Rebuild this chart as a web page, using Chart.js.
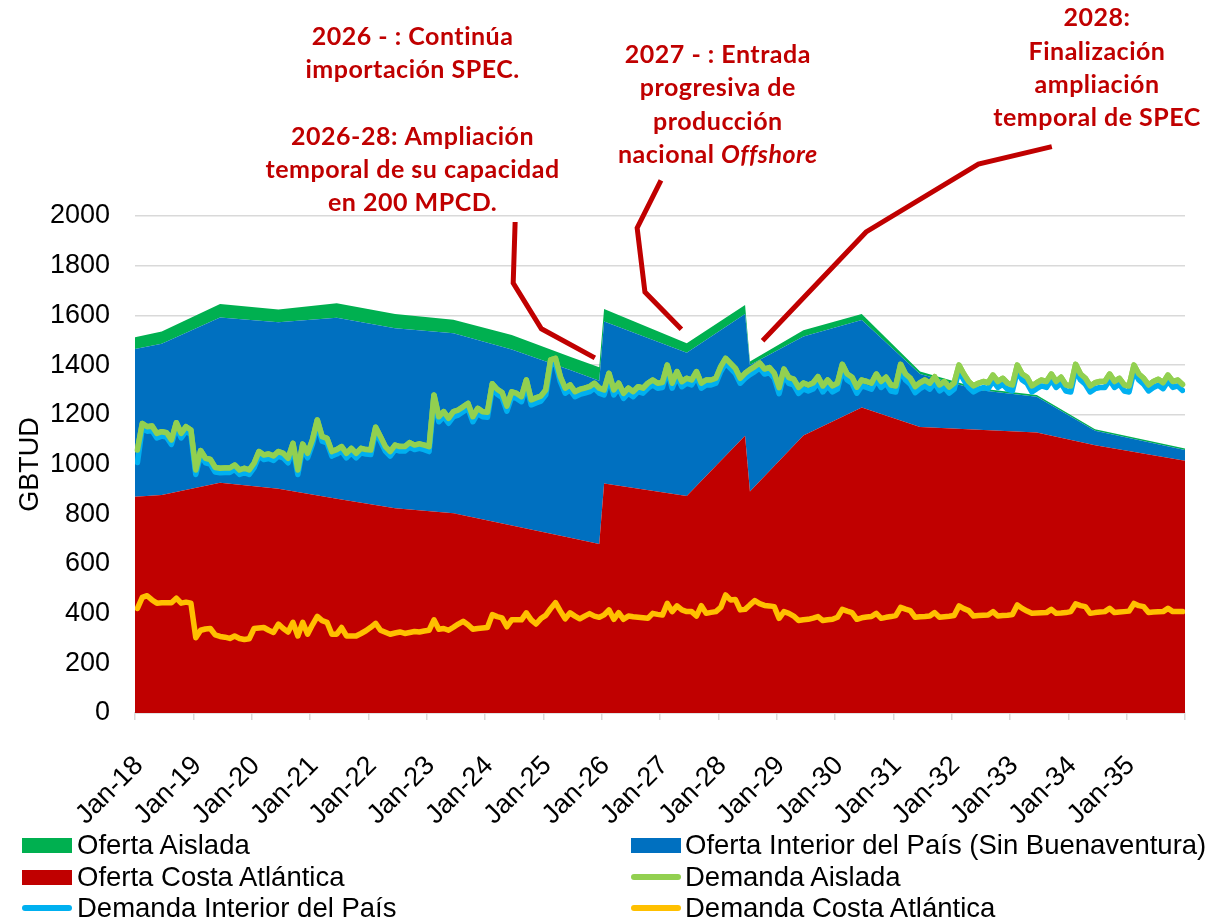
<!DOCTYPE html>
<html><head><meta charset="utf-8">
<script src="https://cdn.jsdelivr.net/npm/chart.js@4.4.0/dist/chart.umd.min.js"></script>
<style>
html,body{margin:0;padding:0;background:#fff;}
#wrap{position:relative;width:1223px;height:920px;overflow:hidden;background:#fff;}
#c{position:absolute;left:0;top:0;}
.lgt{position:absolute;font-family:'Liberation Sans',Arial,sans-serif;font-size:27.5px;color:#000;white-space:nowrap;line-height:30px;height:30px;}
.lgs{position:absolute;}
</style></head><body>
<div id="wrap"><canvas id="c" width="1223" height="920"></canvas><div id="legend"></div></div>
<script>
// ---------- tick labels (x axis, every 12 months) ----------
const tickLabels = ['Jan-18','Jan-19','Jan-20','Jan-21','Jan-22','Jan-23','Jan-24','Jan-25','Jan-26','Jan-27','Jan-28','Jan-29','Jan-30','Jan-31','Jan-32','Jan-33','Jan-34','Jan-35',''];

// ---------- monthly demand (Jan-18 .. Dec-35), GBTUD, stacked ----------
const demandaCosta = [
421,465,472,455,442,444,444,444,462,442,446,442,
303,333,338,340,314,308,305,300,310,300,296,299,
340,342,344,333,324,358,340,326,365,310,365,317,
355,389,372,365,317,317,344,310,310,310,320,331,
345,361,333,325,317,322,326,320,324,328,326,330,
333,375,337,340,333,345,358,369,355,337,340,342,
344,396,388,383,347,375,375,375,403,375,358,380,
393,420,444,410,379,403,390,379,390,400,390,385,
395,415,377,404,377,390,387,385,383,381,401,397,
394,441,408,431,415,408,408,390,432,401,405,408,
425,475,455,457,415,417,435,452,440,433,431,428,
381,408,401,390,372,375,377,382,388,372,375,377,
385,417,410,404,377,383,386,388,401,381,385,388,
392,425,418,412,385,387,388,390,404,385,387,389,
392,431,420,412,390,392,393,394,408,390,392,393,
396,435,421,410,401,402,403,404,417,401,402,404,
408,439,432,428,401,404,406,408,421,404,406,408,
410,441,432,428,404,406,407,408,421,408,408,408];

const demandaInterior = [
587,682,662,682,665,670,666,637,688,665,688,679,
657,705,669,662,656,659,663,668,670,660,671,661,
647,692,676,691,692,676,687,681,702,650,699,710,
726,772,722,722,717,725,710,717,737,717,727,711,
695,771,761,729,717,738,728,734,746,732,739,730,
719,885,835,853,833,848,841,843,871,835,866,850,
846,909,895,887,868,897,891,878,917,865,890,875,
887,981,963,923,908,897,883,903,897,893,917,902,
885,932,903,903,889,897,886,908,904,926,919,910,
916,939,899,923,898,919,912,964,875,919,915,919,
949,932,932,910,912,930,927,922,948,931,939,919,
904,952,925,930,914,929,919,922,941,920,941,915,
918,962,930,923,910,933,924,915,939,929,942,908,
900,954,922,911,904,918,928,913,925,911,923,898,
911,945,920,898,902,911,917,911,928,920,931,910,
900,941,919,917,891,903,913,906,923,909,925,892,
884,940,908,895,891,901,904,902,919,906,917,888,
882,935,908,895,892,904,912,897,915,902,908,890];

const demandaAislada = [
50,18,18,18,18,18,18,18,18,18,18,18,
18,18,18,18,18,18,18,18,18,18,18,18,
18,18,18,18,18,18,18,18,18,18,18,18,
18,18,18,18,18,18,18,18,18,18,18,18,
18,18,18,18,18,18,18,18,18,18,18,18,
20,20,20,20,20,20,20,20,20,20,20,20,
20,20,20,20,20,20,20,20,20,20,20,20,
20,20,20,20,20,20,20,20,20,20,20,20,
20,20,20,20,20,20,20,20,20,20,20,20,
20,20,20,20,20,20,20,20,20,20,20,20,
20,20,20,20,20,20,20,20,20,20,20,20,
24,24,24,24,24,24,24,24,24,24,24,24,
24,24,24,24,24,24,24,24,24,24,24,24,
24,24,24,24,24,24,24,24,24,24,24,24,
24,24,24,24,24,24,24,24,24,24,24,24,
24,24,24,24,24,24,24,24,24,24,24,24,
24,24,24,24,24,24,24,24,24,24,24,24,
24,24,24,24,24,24,24,24,24,24,24,24];

// ---------- supply (values at break months; month position from Jan-18) ----------
const supplyMonths   = [0, 5.5, 17.5, 29.5, 41.5, 53.5, 65.5, 77.5, 89.5, 95.5, 96.5, 113.5, 125.5, 126.5, 137.5, 149.5, 161.5, 173.5, 185.5, 197.5, 216];
const ofertaCosta    = [870, 877, 927, 902, 862, 824, 804, 755, 705, 680, 924, 873, 1116, 891, 1117, 1229, 1151, 1140, 1129, 1077, 1015];
const ofertaInterior = [595, 609, 665, 670, 729, 724, 724, 708, 675, 657, 651, 577, 490, 509, 398, 352, 213, 160, 144, 59, 43];
const ofertaAislada  = [47, 49, 54, 52, 58, 58, 54, 58, 54, 54, 51, 38, 36, 14, 25, 25, 10, 7, 7, 6, 6];

// ---------- annotations (anchor in month position / GBTUD) ----------
const notes = [
  {x: 57.1, y: 2722, lines: ['2026 - : Continúa', 'importación SPEC.']},
  {x: 57.1, y: 2319, lines: ['2026-28: Ampliación', 'temporal de su capacidad', 'en 200 MPCD.']},
  {x: 119.9, y: 2648, lines: ['2027 - : Entrada', 'progresiva de', 'producción', [['nacional ', false], ['Offshore', true]]]},
  {x: 197.9, y: 2796, lines: ['2028:', 'Finalización', 'ampliación', 'temporal de SPEC']}
];
const connectors = [
  [[78.2, 1976], [77.8, 1730], [83.6, 1546], [94.6, 1429]],
  [[108.2, 2143], [103.3, 1952], [104.9, 1694], [112.4, 1544]],
  [[129.1, 1498], [150.4, 1936], [173.5, 2209], [188.6, 2279]]
];

// ---------- styles ----------
const C = {costa:'#C00000', interior:'#0070C0', aislada:'#00B050', dAisl:'#92D050', dInt:'#00B0F0', dCosta:'#FFC000', note:'#C00000', grid:'#D9D9D9'};
const FONT = "'Liberation Sans', Arial, sans-serif";
const NOTE_FONT = "Lato, 'Open Sans', sans-serif";
const NOTE_SIZE = 25;

const supPts = arr => arr.map((v, i) => ({x: supplyMonths[i], y: v}));
const demPts = arr => arr.map((v, i) => ({x: i + 0.5, y: v}));

const areaDs = (label, data, color, fill) => ({
  label, data: supPts(data), type: 'line', fill, backgroundColor: color, borderColor: 'rgba(0,0,0,0)',
  borderWidth: 0, pointRadius: 0, tension: 0, stack: 'oferta', order: 1, legendType: 'box'
});
const lineDs = (label, data, color) => ({
  label, data: demPts(data), type: 'line', fill: false, borderColor: color, backgroundColor: color,
  borderWidth: 5.5, pointRadius: 0, tension: 0, borderJoinStyle: 'round', borderCapStyle: 'round',
  stack: 'demanda', order: 0, legendType: 'line'
});

const datasets = [
  areaDs('Oferta Costa Atlántica', ofertaCosta, C.costa, 'origin'),
  areaDs('Oferta Interior del País (Sin Buenaventura)', ofertaInterior, C.interior, '-1'),
  areaDs('Oferta Aislada', ofertaAislada, C.aislada, '-1'),
  lineDs('Demanda Costa Atlántica', demandaCosta, C.dCosta),
  lineDs('Demanda Interior del País', demandaInterior, C.dInt),
  lineDs('Demanda Aislada', demandaAislada, C.dAisl)
];

// keep the top demand line (Demanda Aislada) painted above the Interior line, as in the source
const topLinePlugin = {
  id: 'topLine',
  afterDatasetsDraw(chart) {
    const idx = datasets.findIndex(d => d.label === 'Demanda Aislada');
    const meta = chart.getDatasetMeta(idx);
    const ctx = chart.ctx, a = chart.chartArea;
    ctx.save();
    ctx.beginPath(); ctx.rect(a.left - 5, a.top - 5, a.right - a.left + 10, a.bottom - a.top + 10); ctx.clip();
    meta.dataset.draw(ctx, a);
    ctx.restore();
  }
};

const annotPlugin = {
  id: 'annot',
  afterDraw(chart) {
    const {ctx, scales: {x, y}} = chart;
    ctx.save();
    ctx.strokeStyle = C.note; ctx.lineWidth = 5; ctx.lineJoin = 'miter'; ctx.lineCap = 'butt';
    connectors.forEach(pts => {
      ctx.beginPath();
      pts.forEach(([m, v], i) => {
        const px = x.getPixelForValue(m), py = y.getPixelForValue(v);
        if (i) ctx.lineTo(px, py); else ctx.moveTo(px, py);
      });
      ctx.stroke();
    });
    ctx.fillStyle = C.note; ctx.textBaseline = 'middle';
    try { ctx.letterSpacing = '0.5px'; } catch (e) {}
    const LH = 33.3;
    notes.forEach(n => {
      const cx = x.getPixelForValue(n.x);
      let cy = y.getPixelForValue(n.y);
      n.lines.forEach(line => {
        const segs = typeof line === 'string' ? [[line, false]] : line;
        let total = 0;
        segs.forEach(([t, it]) => { ctx.font = (it ? 'italic ' : '') + 'bold ' + NOTE_SIZE + 'px ' + NOTE_FONT; total += ctx.measureText(t).width; });
        let sx = cx - total / 2;
        ctx.textAlign = 'left';
        segs.forEach(([t, it]) => { ctx.font = (it ? 'italic ' : '') + 'bold ' + NOTE_SIZE + 'px ' + NOTE_FONT; ctx.fillText(t, sx, cy); sx += ctx.measureText(t).width; });
        cy += LH;
      });
    });
    ctx.restore();
  }
};

Chart.defaults.font.family = FONT;
Chart.defaults.color = '#000';

const chart = new Chart(document.getElementById('c'), {
  type: 'line',
  data: {datasets},
  options: {
    responsive: false, animation: false, devicePixelRatio: 1,
    layout: {padding: {top: 216, right: 38, bottom: 77, left: 0}},
    plugins: {legend: {display: false}, tooltip: {enabled: false}},
    scales: {
      x: {
        type: 'linear', min: 0, max: 216,
        ticks: {stepSize: 12, maxTicksLimit: 40, autoSkip: false, minRotation: 45, maxRotation: 45,
          font: {size: 27}, color: '#000', padding: 30, labelOffset: 4,
          callback: v => tickLabels[Math.round(v / 12)]},
        grid: {drawOnChartArea: false, drawTicks: true, tickLength: 7, color: C.grid, lineWidth: 1.5},
        border: {display: true, color: C.grid, width: 1.5},
        afterFit: s => { s.height = 130; s.paddingRight = 0; }
      },
      y: {
        stacked: true, min: 0, max: 2000,
        ticks: {stepSize: 200, font: {size: 27}, color: '#000', padding: 25, callback: v => String(v)},
        grid: {color: C.grid, lineWidth: 1.5, drawTicks: false},
        border: {display: false},
        title: {display: true, text: 'GBTUD', font: {size: 27}, color: '#000', padding: {top: 14, bottom: 0}},
        afterFit: s => { s.width = 135; }
      }
    }
  },
  plugins: [topLinePlugin, annotPlugin]
});

// ---------- HTML legend (two columns) ----------
const legendOrder = ['Oferta Aislada', 'Oferta Interior del País (Sin Buenaventura)', 'Oferta Costa Atlántica', 'Demanda Aislada', 'Demanda Interior del País', 'Demanda Costa Atlántica'];
const colSwatchX = [22, 631], colTextX = [77, 685], rowY = [845, 877, 908];
const lg = document.getElementById('legend');
legendOrder.forEach((name, k) => {
  const ds = datasets.find(d => d.label === name);
  const col = k % 2, row = Math.floor(k / 2);
  const sw = document.createElement('div');
  sw.className = 'lgs';
  if (ds.legendType === 'box') {
    sw.style.cssText = `left:${colSwatchX[col]}px;top:${rowY[row] - 7}px;width:50px;height:15px;background:${ds.backgroundColor};`;
  } else {
    sw.style.cssText = `left:${colSwatchX[col]}px;top:${rowY[row] - 3}px;width:50px;height:6px;border-radius:3px;background:${ds.borderColor};`;
  }
  lg.appendChild(sw);
  const t = document.createElement('div');
  t.className = 'lgt';
  t.textContent = name;
  t.style.left = colTextX[col] + 'px';
  t.style.top = (rowY[row] - 15) + 'px';
  lg.appendChild(t);
});
</script>
</body></html>
